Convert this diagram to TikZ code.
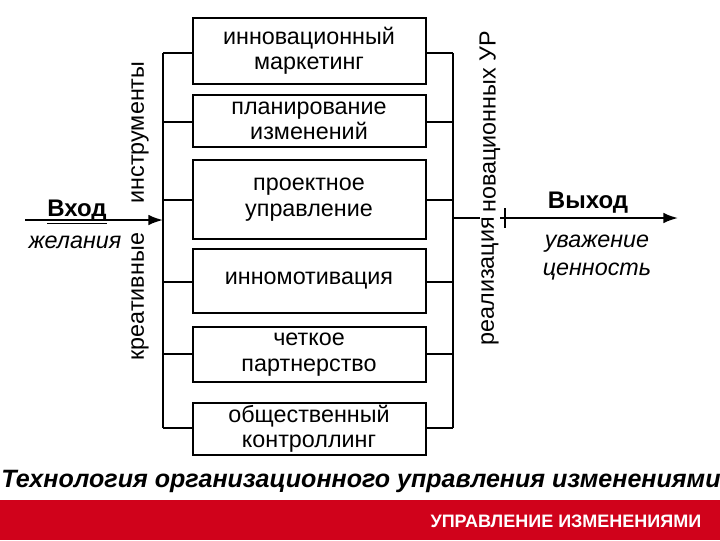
\documentclass[tikz,border=0pt]{standalone}
\usepackage{fontspec}
\setmainfont{Liberation Sans}
\definecolor{band}{HTML}{D0021B}
\usetikzlibrary{arrows.meta}
\begin{document}
\begin{tikzpicture}[x=0.75pt,y=-0.75pt,
  box/.style={draw,line width=1.5pt,minimum width=233*0.75pt,align=center,font=\fontsize{17.5}{19}\selectfont,inner sep=0pt},
  ln/.style={line width=1.5pt},
  arr/.style={ln,-{Latex[length=11pt,width=8pt]}},
  vlab/.style={rotate=90,font=\fontsize{17.5}{19}\selectfont,fill=white,inner sep=1pt}]
\useasboundingbox (0,0) rectangle (720,540);
\node[box,minimum height=66*0.75pt] (b1) at (309,51) {инновационный\\маркетинг};
\node[box,minimum height=52*0.75pt] (b2) at (309,121) {планирование\\изменений};
\node[box,minimum height=79*0.75pt] (b3) at (309,199.5) {проектное\\управление};
\node[box,minimum height=64*0.75pt] (b4) at (309,281) {инномотивация};
\node[box,minimum height=55*0.75pt] (b5) at (309,354.5) {четкое\\партнерство};
\node[box,minimum height=52*0.75pt] (b6) at (309,429) {общественный\\контроллинг};
\coordinate (lt) at (163,53);
\coordinate (lb) at (163,428);
\coordinate (rt) at (453,53);
\coordinate (rb) at (453,428);
\draw[ln] (lt) -- (lb);
\draw[ln] (rt) -- (rb);
\foreach \b/\y in {b1/53,b2/122,b3/200,b4/282,b5/354,b6/428}{
  \draw[ln] (163,\y) -- (\b.west|-0,\y);
  \draw[ln] (\b.east|-0,\y) -- (453,\y);
}
\coordinate (in) at (25,220);
\coordinate (inend) at (163,220);
\draw[arr] (in) -- (inend);
\coordinate (out) at (453,218);
\coordinate (outend) at (678,218);
\draw[arr] (out) -- (outend);
\node[vlab,anchor=west] (kr) at (140,362) {креативные};
\node[vlab,anchor=west] (ins) at (140,205) {инструменты};
\node[vlab,anchor=west] (re) at (490,347) {реализация};
\node[vlab,anchor=west] (nov) at (490,214) {новационных УР};
\draw[line width=1pt] (505,208) -- (505,228);
\node[font=\fontsize{18}{19}\selectfont\bfseries] (vh) at (77,212) {\underline{Вход}};
\node[font=\fontsize{17.5}{19}\selectfont\itshape] (zh) at (75,242) {желания};
\node[font=\fontsize{18}{19}\selectfont\bfseries] (vy) at (588,203) {Выход};
\node[font=\fontsize{17.5}{21}\selectfont\itshape,align=center] (uv) at (597,258) {уважение\\ценность};
\node[font=\fontsize{18.8}{20}\selectfont\bfseries\itshape] (title) at (361,481) {Технология организационного управления изменениями};
\fill[band] (0,500) rectangle (720,540);
\node[font=\fontsize{13.5}{14}\selectfont\bfseries,text=white,anchor=east] (ft) at (706,521) {УПРАВЛЕНИЕ ИЗМЕНЕНИЯМИ};
\end{tikzpicture}
\end{document}
